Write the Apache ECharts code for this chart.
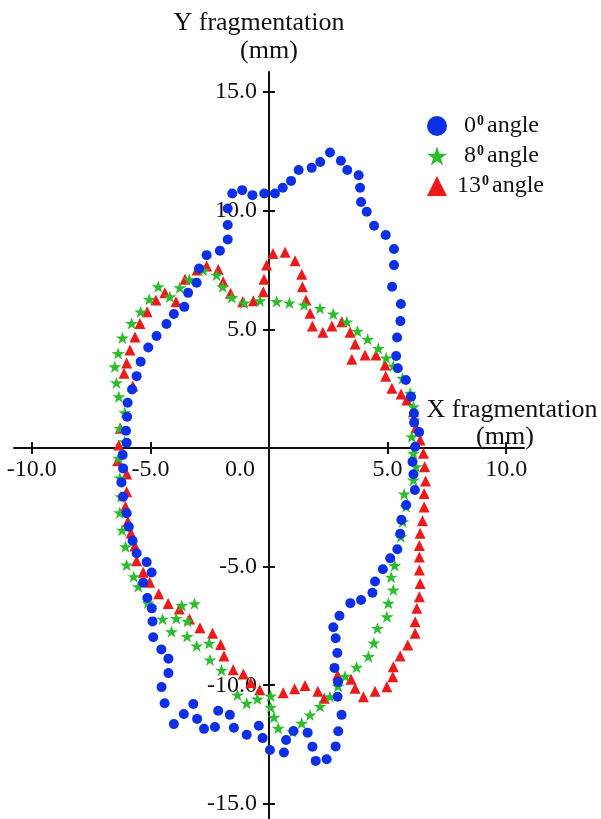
<!DOCTYPE html>
<html>
<head>
<meta charset="utf-8">
<script src="https://cdn.jsdelivr.net/npm/echarts@6/dist/echarts.min.js"></script>
<style>
  html, body { margin: 0; padding: 0; background: #ffffff; }
  #chart { width: 601px; height: 819px; }
</style>
</head>
<body>
<div id="chart"></div>
<script>
// ---- data (mm) ----
const seriesNames = ['0⁰ angle', '8⁰ angle', '13⁰ angle'];
const xTickValues = [-10, -5, 5, 10];
const xLabelValues = [-10, -5, 0, 5, 10];
const yTickValues = [-15, -10, -5, 5, 10, 15];

const angle0 = [
  [-6.17,-0.29],[-6.00,0.22],[-6.03,0.73],[-5.98,1.32],[-5.96,1.91],[-5.77,2.47],[-5.58,3.03],
  [-5.41,3.64],[-5.09,4.24],[-4.74,4.72],[-4.32,5.23],[-4.01,5.65],[-3.57,5.95],[-3.41,6.54],
  [-3.05,6.97],[-2.95,7.57],[-2.63,8.13],[-2.07,8.32],[-1.74,8.79],[-1.74,9.40],[-1.74,10.10],
  [-1.55,10.73],[-1.13,10.87],[-0.70,10.66],[-0.20,10.73],[0.25,10.73],[0.58,10.97],[0.93,11.26],
  [1.25,11.72],[1.80,11.81],[2.16,12.06],[2.57,12.46],[3.03,12.11],[3.30,11.72],[3.78,11.50],
  [3.84,10.97],[3.88,10.37],[4.12,9.96],[4.43,9.37],[4.92,8.98],[5.27,8.39],[5.27,7.71],
  [5.19,6.80],[5.56,6.07],[5.54,5.35],[5.40,4.66],[5.36,3.88],[5.43,3.36],[5.77,2.87],
  [5.99,2.16],[6.11,1.46],[6.12,1.07],[6.33,0.67],[6.16,0.05],[6.05,-0.58],[6.09,-1.11],
  [6.15,-1.77],[5.78,-2.40],[5.58,-3.03],[5.53,-3.62],[5.41,-4.27],[5.11,-4.65],[4.80,-5.11],
  [4.47,-5.63],[4.36,-6.10],[3.88,-6.41],[3.43,-6.54],[2.97,-7.07],[2.71,-7.56],[2.81,-8.02],
  [2.88,-8.64],[2.76,-9.27],[2.91,-9.86],[2.89,-10.49],[3.06,-11.25],[2.92,-11.94],[2.81,-12.58],
  [2.43,-13.12],[1.97,-13.19],[1.83,-12.59],[1.63,-12.00],[1.03,-11.93],[0.72,-12.31],[0.63,-12.84],
  [0.04,-12.73],[-0.27,-12.23],[-0.43,-11.71],[-0.94,-12.09],[-1.48,-11.79],[-1.65,-11.25],
  [-2.14,-11.08],[-2.28,-11.76],[-2.74,-11.84],[-3.03,-11.42],[-3.19,-10.79],[-3.59,-11.21],
  [-4.01,-11.64],[-4.40,-10.76],[-4.53,-10.08],[-4.24,-9.49],[-4.24,-8.88],[-4.54,-8.49],
  [-4.88,-7.98],[-4.91,-7.31],[-4.94,-6.76],[-5.13,-6.32],[-5.30,-5.68],[-4.95,-5.25],[-5.16,-4.81],
  [-5.58,-4.44],[-5.75,-3.91],[-5.91,-3.32],[-6.00,-2.75],[-6.15,-2.05],[-6.22,-1.45],[-6.15,-0.86]
];

const angle8 = [
  [-6.50,3.43],[-6.36,3.99],[-6.18,4.64],[-5.79,5.25],[-5.41,5.74],[-5.05,6.27],[-4.67,6.80],
  [-4.18,6.38],[-3.76,6.76],[-3.36,7.11],[-2.77,7.50],[-2.21,7.29],[-1.95,6.80],[-1.57,6.35],
  [-1.05,6.12],[-0.38,6.21],[0.32,6.18],[0.86,6.12],[1.48,6.03],[2.15,5.89],[2.71,5.65],
  [3.28,5.32],[3.73,4.93],[4.16,4.59],[4.61,4.20],[4.94,3.80],[5.24,3.46],[5.63,2.94],
  [5.95,2.31],[6.09,1.74],[6.13,1.18],[6.02,0.48],[6.09,-0.22],[6.20,-0.79],[6.09,-1.35],
  [5.70,-1.94],[5.78,-2.47],[5.64,-3.11],[5.56,-3.74],[5.30,-4.95],[5.15,-5.44],[5.24,-5.98],
  [5.03,-6.54],[4.97,-7.11],[4.57,-7.60],[4.42,-8.22],[4.19,-8.79],[3.69,-9.24],[3.21,-9.62],
  [2.91,-10.04],[2.57,-10.48],[2.15,-10.89],[1.73,-11.25],[1.38,-11.60],[1.00,-11.96],
  [0.39,-11.81],[0.21,-11.35],[0.07,-10.93],[0.07,-10.45],[-0.49,-10.58],[-0.94,-10.76],
  [-1.33,-10.41],[-2.00,-9.36],[-2.49,-8.93],[-2.52,-8.23],[-3.05,-8.34],[-3.45,-7.94],
  [-4.11,-7.74],[-4.49,-7.21],[-3.91,-7.18],[-3.43,-7.30],[-3.68,-6.64],[-3.14,-6.56],
  [-5.11,-6.53],[-5.51,-5.84],[-5.70,-5.42],[-6.00,-4.93],[-6.05,-4.16],[-6.19,-3.46],
  [-6.29,-2.73],[-6.24,-2.05],[-6.29,-1.26],[-6.33,-0.43],[-6.08,0.27],[-6.29,0.83],
  [-6.08,1.49],[-6.33,2.16],[-6.43,2.75]
];

const angle13 = [
  [-3.54,7.11],[-3.92,6.17],[-4.39,6.54],[-4.77,6.24],[-5.14,5.74],[-5.44,5.25],[-5.65,4.68],
  [-5.86,4.13],[-6.00,3.58],[-6.11,3.15],[-5.74,2.61],[-6.27,0.83],[-6.33,0.13],[-6.38,-0.54],
  [-6.00,-1.10],[-6.00,-1.84],[-6.05,-2.47],[-5.95,-3.10],[-5.82,-3.58],[-5.65,-4.13],
  [-5.58,-4.75],[-5.30,-5.24],[-5.03,-5.66],[-4.65,-6.14],[-4.25,-6.56],[-3.78,-6.79],
  [-3.35,-7.21],[-2.91,-7.58],[-2.38,-7.81],[-2.04,-8.28],[-1.90,-8.77],[-1.51,-9.35],
  [-1.08,-9.53],[-0.77,-9.90],[-0.39,-10.19],[0.60,-10.32],[1.08,-10.15],[1.52,-10.01],
  [2.06,-10.25],[2.33,-10.55],[2.89,-9.57],[3.46,-9.75],[3.63,-10.13],[3.98,-10.49],
  [4.47,-10.25],[4.97,-10.06],[5.22,-9.64],[5.24,-9.22],[5.53,-8.77],[5.85,-8.30],[6.16,-7.81],
  [6.16,-7.32],[6.23,-6.76],[6.34,-6.27],[6.37,-5.71],[6.34,-5.14],[6.34,-4.59],[6.34,-4.11],
  [6.37,-3.59],[6.47,-3.07],[6.54,-2.49],[6.54,-1.92],[6.60,-1.39],[6.56,-0.79],[6.51,-0.22],
  [6.37,0.34],[6.20,0.86],[6.09,1.53],[5.81,2.02],[5.57,2.28],[5.18,2.52],[4.92,3.03],
  [4.89,3.50],[4.51,3.92],[4.05,3.92],[3.49,3.74],[3.63,4.38],[3.42,4.88],[3.07,5.32],
  [2.65,5.14],[2.27,4.88],[1.83,5.14],[1.73,5.68],[1.56,6.24],[1.41,6.80],[1.38,7.33],
  [1.10,7.89],[0.68,8.25],[0.17,8.20],[-0.10,7.71],[-0.21,7.11],[-0.24,6.59],[-0.66,6.21],
  [-1.11,6.17],[-1.62,6.52],[-1.93,7.01],[-2.14,7.53],[-2.63,7.67],[-3.03,7.50]
];

// ---- styling ----
const FONT = 'Liberation Serif, Times New Roman, serif';
const INK = '#111111';
const STAR = 'path://M50,0 L61.8,35.1 L98.1,35.1 L68.7,56.8 L79.4,90.9 L50,69.6 L20.6,90.9 L31.3,56.8 L1.9,35.1 L38.2,35.1 Z';

// plot geometry: data grid 510 x 747 px, 23.72 px per mm on both axes
const GRID_LEFT = 14, GRID_W = 510, GRID_TOP = 72, GRID_H = 747, UPPER_H = 376;
const X_MIN = -10.75, X_MAX = 10.75;
const PX_PER_MM = GRID_W / (X_MAX - X_MIN);
const Y_MAX = UPPER_H / PX_PER_MM;
const Y_MIN = -(GRID_H - UPPER_H) / PX_PER_MM;
const ZERO_X = GRID_LEFT + (0 - X_MIN) * PX_PER_MM;

function fmt(v) { return v.toFixed(1); }

const tickStyle = { color: INK, width: 2 };

const option = {
  backgroundColor: '#ffffff',
  animation: false,
  grid: [
    // 0: data grid
    { left: GRID_LEFT, width: GRID_W, top: GRID_TOP, height: GRID_H, containLabel: false, outerBoundsMode: 'none' },
    // 1: carries the horizontal axis at y = 0 (its bottom edge)
    { left: GRID_LEFT, width: GRID_W, top: GRID_TOP, height: UPPER_H, containLabel: false, outerBoundsMode: 'none' },
    // 2: carries the vertical axis at x = 0 (its left edge)
    { left: ZERO_X, width: 100, top: GRID_TOP, height: GRID_H, containLabel: false, outerBoundsMode: 'none' }
  ],
  legend: {
    orient: 'vertical',
    left: 422,
    top: 107,
    itemWidth: 20,
    itemHeight: 20,
    itemGap: 2,
    selectedMode: false,
    data: seriesNames,
    formatter: function (name) {
      const n = name.split('⁰')[0];
      const st = n.length > 1 ? 'n2' : 'n1';
      return '{' + st + '|' + n + '}{s|0}{t|angle}';
    },
    textStyle: {
      fontFamily: FONT, fontSize: 24, color: INK, lineHeight: 28,
      rich: {
        n1: { fontFamily: FONT, fontSize: 24, color: INK, lineHeight: 28, padding: [0, 0, 0, 12] },
        n2: { fontFamily: FONT, fontSize: 24, color: INK, lineHeight: 28, padding: [0, 0, 0, 5] },
        s: { fontFamily: FONT, fontSize: 14, fontWeight: 'bold', color: INK, verticalAlign: 'top', lineHeight: 14, padding: [2, 0, 0, 1] },
        t: { fontFamily: FONT, fontSize: 24, color: INK, lineHeight: 28, padding: [0, 0, 0, 3] }
      }
    }
  },
  xAxis: [
    // 0: data x axis (hidden)
    { type: 'value', gridIndex: 0, min: X_MIN, max: X_MAX, show: false },
    // 1: visible horizontal axis line, downward ticks, labels, title
    {
      type: 'value', gridIndex: 1, min: X_MIN, max: X_MAX, position: 'bottom',
      name: '{a|X fragmentation}\n{b|(mm)}',
      nameLocation: 'end', nameGap: -12,
      nameTextStyle: {
        fontFamily: FONT, fontSize: 26, color: INK, align: 'center', verticalAlign: 'bottom', lineHeight: 27, padding: [0, 0, -3, 0],
        rich: {
          a: { fontFamily: FONT, fontSize: 26, color: INK, lineHeight: 27 },
          b: { fontFamily: FONT, fontSize: 26, color: INK, lineHeight: 27, padding: [0, 14, 0, 0] }
        }
      },
      axisLine: { show: true, onZero: false, lineStyle: { color: INK, width: 2 } },
      axisTick: { show: true, inside: false, length: 6, lineStyle: tickStyle, customValues: xTickValues },
      axisLabel: {
        show: true, margin: 10, fontFamily: FONT, fontSize: 24, color: INK,
        customValues: xLabelValues,
        formatter: function (v) { return v === 0 ? '{z|0.0}' : fmt(v); },
        rich: { z: { fontFamily: FONT, fontSize: 24, color: INK, padding: [0, 58, 0, 0] } }
      },
      splitLine: { show: false }
    },
    // 2: upward half of the cross ticks
    {
      type: 'value', gridIndex: 1, min: X_MIN, max: X_MAX, position: 'bottom',
      axisLine: { show: false, onZero: false },
      axisTick: { show: true, inside: true, length: 6, lineStyle: tickStyle, customValues: xTickValues },
      axisLabel: { show: false },
      splitLine: { show: false }
    },
    // 3: companion of grid 2 (hidden)
    { type: 'value', gridIndex: 2, min: 0, max: 1, show: false }
  ],
  yAxis: [
    // 0: data y axis (hidden)
    { type: 'value', gridIndex: 0, min: Y_MIN, max: Y_MAX, show: false },
    // 1: companion of grid 1 (hidden)
    { type: 'value', gridIndex: 1, min: 0, max: Y_MAX, show: false },
    // 2: visible vertical axis line, leftward ticks, labels, title
    {
      type: 'value', gridIndex: 2, min: Y_MIN, max: Y_MAX, position: 'left',
      name: '{a|Y fragmentation}\n{b|(mm)}',
      nameLocation: 'end', nameGap: 7,
      nameTextStyle: {
        fontFamily: FONT, fontSize: 26, color: INK, align: 'center', verticalAlign: 'bottom', lineHeight: 28,
        rich: {
          a: { fontFamily: FONT, fontSize: 26, color: INK, lineHeight: 28, padding: [0, 20, 0, 0] },
          b: { fontFamily: FONT, fontSize: 26, color: INK, lineHeight: 28 }
        }
      },
      axisLine: { show: true, onZero: false, lineStyle: { color: INK, width: 2 } },
      axisTick: { show: true, inside: false, length: 6, lineStyle: tickStyle, customValues: yTickValues },
      axisLabel: {
        show: true, margin: 12, fontFamily: FONT, fontSize: 24, color: INK,
        customValues: yTickValues,
        formatter: function (v) { return fmt(v); }
      },
      splitLine: { show: false }
    },
    // 3: rightward half of the cross ticks
    {
      type: 'value', gridIndex: 2, min: Y_MIN, max: Y_MAX, position: 'left',
      axisLine: { show: false, onZero: false },
      axisTick: { show: true, inside: true, length: 6, lineStyle: tickStyle, customValues: yTickValues },
      axisLabel: { show: false },
      splitLine: { show: false }
    }
  ],
  series: [
    {
      name: seriesNames[0], type: 'scatter', xAxisIndex: 0, yAxisIndex: 0,
      symbol: 'circle', symbolSize: 10,
      itemStyle: { color: '#0b30e8', opacity: 1 },
      data: angle0, z: 6
    },
    {
      name: seriesNames[1], type: 'scatter', xAxisIndex: 0, yAxisIndex: 0,
      symbol: STAR, symbolSize: 13, symbolKeepAspect: true,
      itemStyle: { color: '#2cbd2c', opacity: 1 },
      data: angle8, z: 5
    },
    {
      name: seriesNames[2], type: 'scatter', xAxisIndex: 0, yAxisIndex: 0,
      symbol: 'triangle', symbolSize: 11,
      itemStyle: { color: '#ec1a1a', opacity: 1 },
      data: angle13, z: 4
    }
  ]
};

const chart = echarts.init(document.getElementById('chart'), null, { renderer: 'canvas', width: 601, height: 819 });
chart.setOption(option);
</script>
</body>
</html>
